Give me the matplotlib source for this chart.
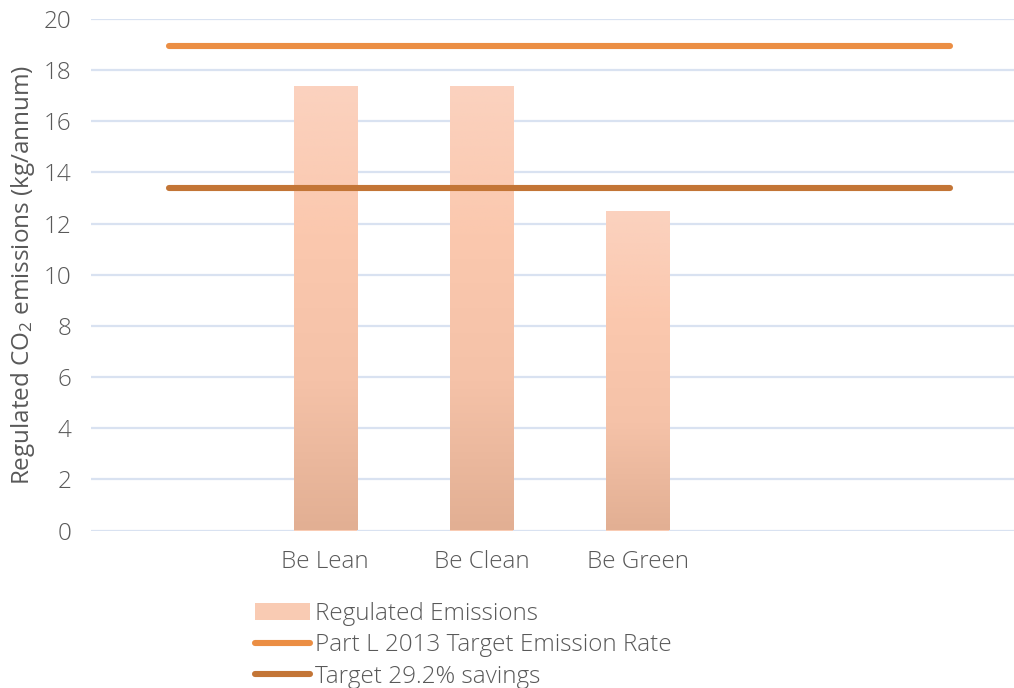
import numpy as np
import matplotlib
matplotlib.use("Agg")
import matplotlib.pyplot as plt
from matplotlib.colors import LinearSegmentedColormap
from matplotlib.lines import Line2D
from matplotlib.patches import Patch

# Category slots along the x axis (empty slots pad the target lines)
categories = ["", "Be Lean", "Be Clean", "Be Green", "", ""]
bar_categories = ["Be Lean", "Be Clean", "Be Green"]
regulated_emissions = [17.34, 17.34, 12.45]
target_emission_rate = 18.93
target_savings = 13.40

text_color = "#595959"
grid_color = "#D9E2F1"
ter_color = "#EB8E44"
savings_color = "#C37536"

plt.rcParams["font.family"] = ["Open Sans", "DejaVu Sans"]
plt.rcParams["font.weight"] = "light"
plt.rcParams["mathtext.default"] = "regular"

FS = 17.5

fig = plt.figure(figsize=(10.14, 6.88), dpi=100)
ax = fig.add_axes([91 / 1014, (688 - 530.5) / 688, 937 / 1014, 511.5 / 688])

x_all = np.arange(len(categories))
x_bars = [categories.index(c) for c in bar_categories]

ax.set_xlim(-0.5, len(categories) - 0.5)
ax.set_ylim(0, 20)
ax.set_yticks(np.arange(0, 21, 2))
ax.set_xticks(x_all)
ax.set_xticklabels(categories)

ax.grid(axis="y", color=grid_color, linewidth=1.6, zorder=0)
ax.set_axisbelow(True)
for s in ax.spines.values():
    s.set_visible(False)
ax.tick_params(axis="both", length=0, labelsize=FS, colors=text_color)
ax.tick_params(axis="y", pad=14)
ax.tick_params(axis="x", pad=14)

# Bars with a vertical peach gradient (lighter top, darker base)
bars = ax.bar(x_bars, regulated_emissions, width=0.405, color="#F9CBB3",
              zorder=1)
grad_cmap = LinearSegmentedColormap.from_list(
    "peach", ["#E2AF93", "#F5C2A8", "#FBC8AE", "#FBD2BF"])
grad = np.linspace(0, 1, 256).reshape(-1, 1)
for rect in bars:
    x0 = rect.get_x()
    w = rect.get_width()
    h = rect.get_height()
    ax.imshow(grad, cmap=grad_cmap, origin="lower", aspect="auto",
              extent=[x0, x0 + w, 0, h], zorder=2, interpolation="bicubic")
ax.set_xlim(-0.5, len(categories) - 0.5)
ax.set_ylim(0, 20)

ax.plot(x_all, [target_emission_rate] * len(x_all), color=ter_color,
        linewidth=4.4, solid_capstyle="round", zorder=3)
ax.plot(x_all, [target_savings] * len(x_all), color=savings_color,
        linewidth=4.4, solid_capstyle="round", zorder=3)

ax.set_ylabel(r"Regulated CO$_2$ emissions (kg/annum)",
              fontsize=FS, color=text_color)
ax.yaxis.set_label_coords(-0.058, 0.5)

handles = [
    Patch(facecolor="#F9CBB3", edgecolor="none"),
    Line2D([0], [0], color=ter_color, linewidth=4.4, solid_capstyle="round"),
    Line2D([0], [0], color=savings_color, linewidth=4.4, solid_capstyle="round"),
]
labels = ["Regulated Emissions", "Part L 2013 Target Emission Rate",
          "Target 29.2% savings"]
leg = fig.legend(handles, labels, loc="upper left",
                 bbox_to_anchor=(255 / 1014, 1 - 602 / 688),
                 frameon=False, fontsize=FS, handlelength=2.25,
                 handleheight=0.65, handletextpad=0.2, labelspacing=0.3,
                 borderpad=0, borderaxespad=0)
for t in leg.get_texts():
    t.set_color(text_color)

fig.savefig("out.png", dpi=100)
